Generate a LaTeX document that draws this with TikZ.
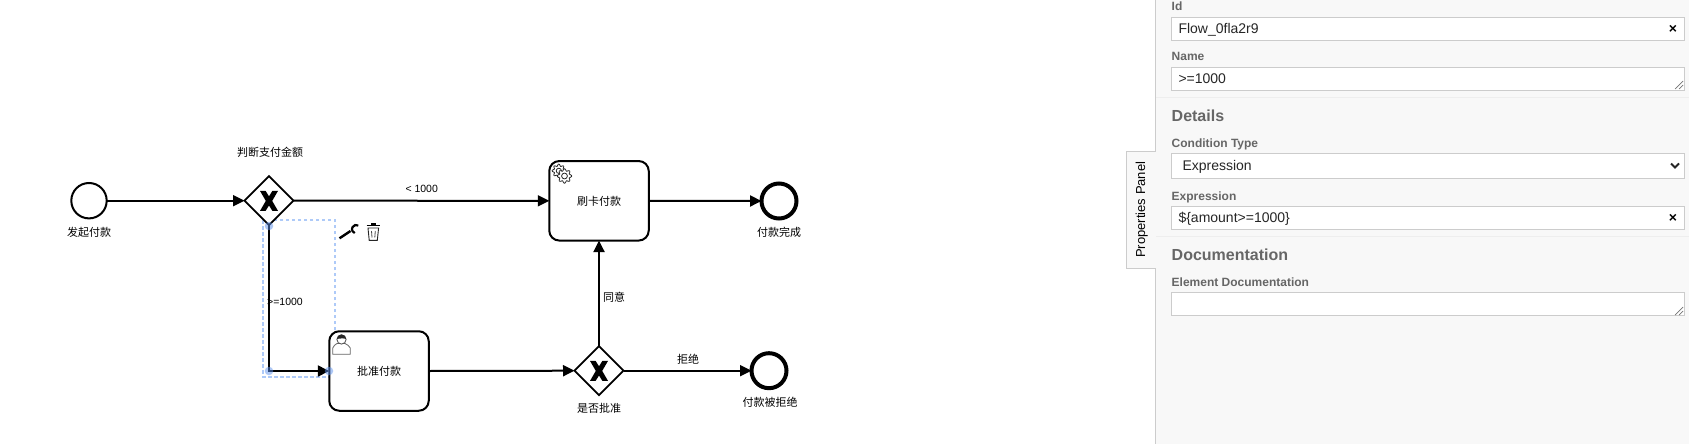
\documentclass[tikz,border=0pt]{standalone}
\usepackage{fontspec}
\setmainfont{Liberation Sans}
\newfontfamily\cjkfont{Noto Sans CJK SC}
\usetikzlibrary{arrows.meta,shapes.geometric}
\definecolor{panelbg}{HTML}{F8F8F8}
\definecolor{panelline}{HTML}{CCCCCC}
\definecolor{divline}{HTML}{EEEEEE}
\definecolor{labelgray}{HTML}{666666}
\definecolor{selblue}{HTML}{AECAF8}
\definecolor{handleblue}{HTML}{5C90EC}
\tikzset{
  task/.style={draw=black,fill=white,line width=2pt,rounded corners=10pt,minimum width=99.5pt,minimum height=79.5pt,outer sep=0pt,inner sep=0pt},
  startev/.style={draw=black,fill=white,circle,line width=2pt,minimum size=35.4pt,outer sep=0pt,inner sep=0pt},
  endev/.style={draw=black,fill=white,circle,line width=4pt,minimum size=35pt,outer sep=0pt,inner sep=0pt},
  gate/.style={draw=black,fill=white,diamond,aspect=1,line width=1.8pt,minimum width=49pt,minimum height=49pt,outer sep=0pt,inner sep=0pt},
  flow/.style={draw=black,line width=2pt,-{Triangle[length=11.5pt,width=11pt]}},
  captxt/.style={inner sep=0pt,font=\cjkfont\fontsize{11}{13}\selectfont,text=black},
  flowtxt/.style={inner sep=0pt,font=\fontsize{10.5}{13}\selectfont,text=black},
  field/.style={draw=panelline,fill=white,line width=1pt,anchor=north west,minimum width=513pt,inner sep=0pt,outer sep=0pt},
  inputtxt/.style={inner sep=0pt,anchor=base west,font=\fontsize{14}{16}\selectfont,text=black!85},
  smalllab/.style={inner sep=0pt,anchor=base west,font=\bfseries\fontsize{12}{14}\selectfont,text=labelgray},
  grouplab/.style={inner sep=0pt,anchor=base west,font=\bfseries\fontsize{16}{18}\selectfont,text=labelgray},
  clearx/.style={inner sep=0pt,font=\bfseries\fontsize{14}{16}\selectfont,text=black},
  handle/.style={circle,fill=handleblue,fill opacity=0.5,minimum size=8.5pt,inner sep=0pt,outer sep=0pt},
  gearline/.style={draw=black!85,fill=white,line width=0.8pt},
  grip/.style={draw=black!55,line width=0.7pt},
  pics/gatecross/.style={code={
    \fill[black] (-9,-10) -- (-3.4,-10) -- (0,-4.6) -- (3.4,-10) -- (9,-10) -- (3.2,0) -- (9,10) -- (3.4,10) -- (0,4.6) -- (-3.4,10) -- (-9,10) -- (-3.2,0) -- cycle;
  }}
}
\begin{document}
\begin{tikzpicture}[x=1pt,y=-1pt]
\useasboundingbox (0,0) rectangle (1689,444);
\fill[white] (0,0) rectangle (1689,444);
% properties panel
\fill[panelbg] (1155.5,0) rectangle (1689,444);
\draw[panelline,line width=1pt] (1155.5,0) -- (1155.5,151.3);
\draw[panelline,line width=1pt] (1155.5,268.3) -- (1155.5,444);
\draw[panelline,line width=1pt,fill=panelbg] (1155.5,151.3) -- (1126.3,151.3) -- (1126.3,268.3) -- (1155.5,268.3);
\node[inner sep=0pt,rotate=90,anchor=base west,font=\fontsize{13}{15}\selectfont,text=black] (tabtxt) at (1145,258) {Properties Panel};
\draw[divline,line width=1pt] (1156,97.5) -- (1689,97.5);
\draw[divline,line width=1pt] (1156,236.3) -- (1689,236.3);
\node[smalllab] (lid) at (1171.5,11) {Id};
\node[field,minimum height=23.4pt] (fid) at (1171.5,17.3) {};
\node[inputtxt] (tid) at (1178.3,34) {Flow\_0fla2r9};
\node[clearx] (xid) at (1673,29) {×};
\node[smalllab] (lname) at (1171.5,61) {Name};
\node[field,minimum height=23.4pt] (fname) at (1171.5,67.3) {};
\node[inputtxt] (tname) at (1178.3,84) {>=1000};
\draw[grip] (1675,89) -- (1683,81);
\draw[grip] (1679,89) -- (1683,85);
\node[grouplab] (ldet) at (1171.5,121.7) {Details};
\node[smalllab] (lcond) at (1171.5,147) {Condition Type};
\node[field,minimum height=25.4pt] (fcond) at (1171.5,153.3) {};
\node[inputtxt] (tcond) at (1182.3,170.7) {Expression};
\draw[black!85,line width=2pt] (1671,163.5) -- (1675,167.5) -- (1679,163.5);
\node[smalllab] (lexpr) at (1171.5,200) {Expression};
\node[field,minimum height=23.2pt] (fexpr) at (1171.5,206.7) {};
\node[inputtxt] (texpr) at (1178.3,222.7) {\$\{amount>=1000\}};
\node[clearx] (xexpr) at (1673,218) {×};
\node[grouplab] (ldoc) at (1171.5,260.7) {Documentation};
\node[smalllab] (ledoc) at (1171.5,286) {Element Documentation};
\node[field,minimum height=23.4pt] (fedoc) at (1171.5,292.3) {};
\draw[grip] (1675,315) -- (1683,307);
\draw[grip] (1679,315) -- (1683,311);
% selection outline
\draw[selblue,line width=2pt,dash pattern=on 3.5pt off 2.5pt] (263,220) rectangle (335,377);
% shapes
\node[startev] (start) at (89,200.7) {};
\node[gate] (gw1) at (269,200.7) {};
\node[task] (pay) at (599,200.8) {};
\node[endev] (end1) at (779,201) {};
\node[task] (approve) at (379,371) {};
\node[gate] (gw2) at (599,370.7) {};
\node[endev] (end2) at (769,370.7) {};
% gateway crosses
\pic at (269,200.9) {gatecross};
\pic at (599,370.9) {gatecross};
% flows
\draw[flow] (start.east) -- (gw1.west);
\draw[flow] (gw1.east) -- (pay.west);
\draw[flow] (pay.east) -- (end1.west);
\draw[flow] (gw1.south) |- (approve.west);
\draw[flow] (approve.east) -- (gw2.west);
\draw[flow] (gw2.north) -- (pay.south);
\draw[flow] (gw2.east) -- (end2.west);
% selection handles
\node[handle] (h1) at (269,226) {};
\node[handle] (h2) at (269,371) {};
\node[handle] (h3) at (329,371) {};
% captions
\node[captxt] (c1) at (270,152) {判断支付金额};
\node[captxt] (c2) at (89,232) {发起付款};
\node[captxt] (c3) at (379,371) {批准付款};
\node[captxt] (c4) at (599,201) {刷卡付款};
\node[captxt] (c5) at (779,232) {付款完成};
\node[captxt] (c6) at (614,297) {同意};
\node[captxt] (c7) at (688,359) {拒绝};
\node[captxt] (c8) at (599,408) {是否批准};
\node[captxt] (c9) at (770,402) {付款被拒绝};
\node[flowtxt] (f1) at (421.7,189) {< 1000};
\node[flowtxt] (f2) at (285,302) {>=1000};
% wrench
\draw[black,line width=2.4pt] (339.5,238.3) -- (350.5,231);
\draw[black,line width=2.2pt] (358.3,225.5) arc[start angle=-60,end angle=-250,radius=4.2];
% trash
\draw[black,line width=1.6pt] (366.6,225.6) -- (380,225.6);
\fill[black] (370.5,223) rectangle (376,225);
\draw[black!85,line width=0.9pt] (368,228) -- (369.2,240.3) -- (377.3,240.3) -- (378.6,228) -- cycle;
\draw[black!70,line width=0.8pt] (371.5,231) -- (372,237.5) (375.3,231) -- (374.8,237.5);
% user icon
\draw[black!60,fill=white,line width=0.8pt] (332.8,354.3) -- (332.8,348) .. controls (333,345.5) and (335.5,345) .. (337,343.5) -- (345,343.5) .. controls (346.5,345) and (350,345.5) .. (350.3,348) -- (350.3,354.3) -- cycle;
\draw[black!70,fill=white,line width=0.8pt] (341.5,339.5) circle[radius=4.6];
\fill[black!85] (336.9,339) arc[start angle=180,end angle=360,radius=4.6] .. controls (344,338) and (339,338.5) .. cycle;
% service gears
\begin{scope}[shift={(558.8,170.8)}]
\draw[gearline] plot[domain=0:360,samples=65] (\x:{5.7+1*cos(8*\x)}) -- cycle;
\draw[gearline] (0,0) circle[radius=2.6];
\end{scope}
\begin{scope}[shift={(564.5,176)}]
\draw[gearline] plot[domain=0:360,samples=65] (\x:{6.2+1*cos(8*\x)}) -- cycle;
\draw[gearline] (0,0) circle[radius=2.9];
\end{scope}
\end{tikzpicture}
\end{document}
